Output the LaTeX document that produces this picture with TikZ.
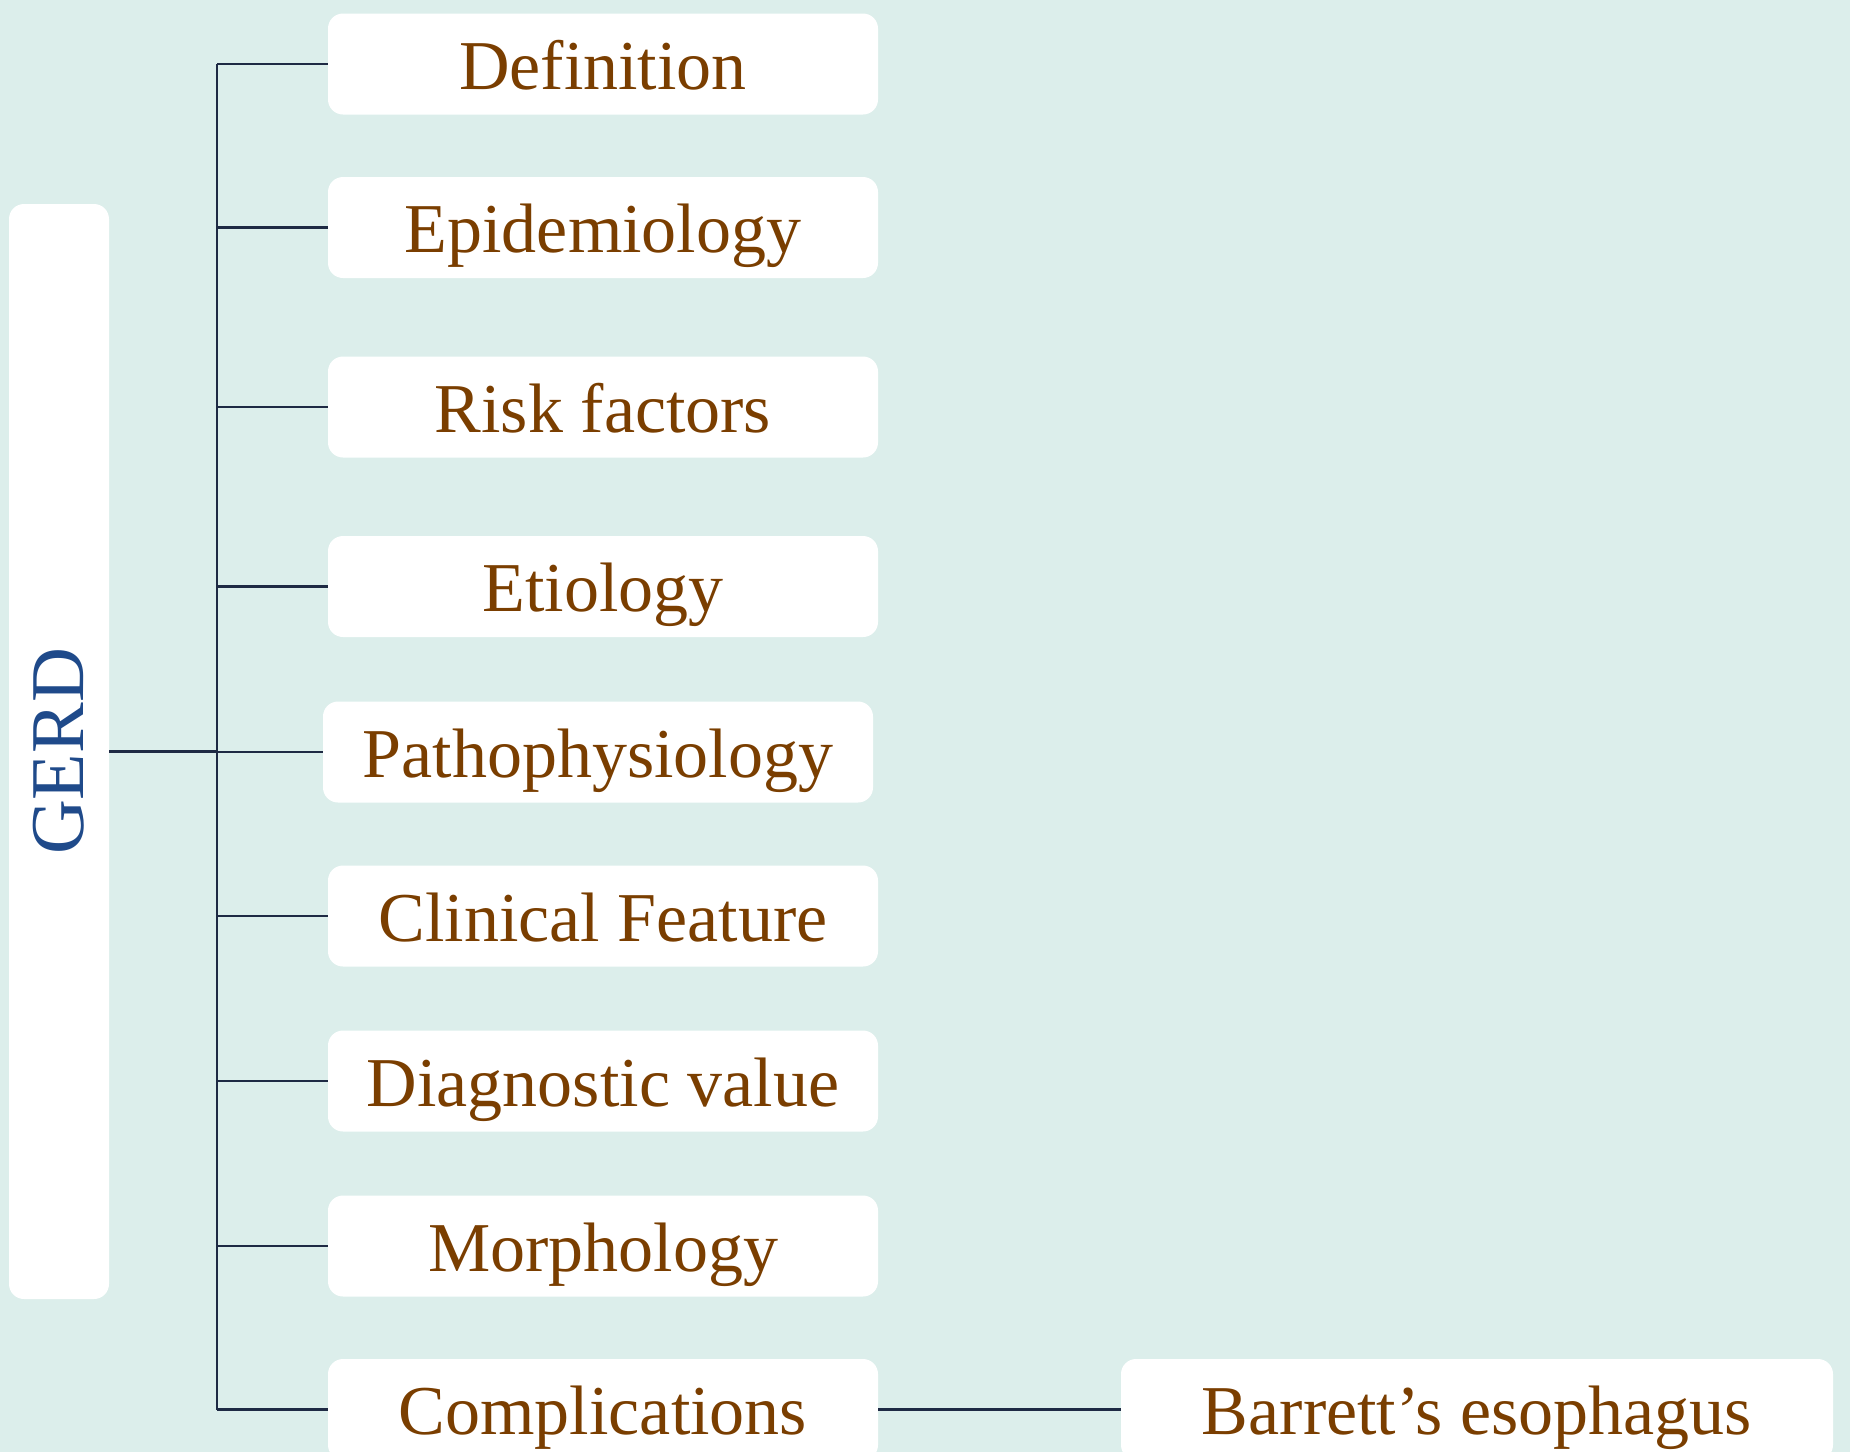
\documentclass[tikz,border=0pt]{standalone}
\usepackage{fontspec}
\setmainfont{Liberation Serif}
\usetikzlibrary{positioning,calc}

\definecolor{bgteal}{HTML}{DCEEEB}
\definecolor{topicbrown}{HTML}{7A3E00}
\definecolor{rootblue}{HTML}{1F4A8A}
\definecolor{linknavy}{HTML}{1E2A44}

\tikzset{
    topic/.style={fill=white, rounded corners=15pt, minimum width=550pt, minimum height=101pt,
        inner sep=0pt, text height=50pt, text depth=0pt, text=topicbrown, font=\fontsize{70}{80}\selectfont},
    root/.style={fill=white, rounded corners=15pt, minimum width=1095pt, minimum height=100pt,
        inner sep=0pt, text=rootblue, font=\fontsize{76}{86}\selectfont, rotate=90},
    link/.style={draw=linknavy, line width=2.5pt}
}

\begin{document}
\begin{tikzpicture}[x=1pt, y=-1pt]
                % Background
                \fill[bgteal] (0,0) rectangle (1850,1452);
                \useasboundingbox (0,0) rectangle (1850,1452);
                
                % Root
                \node[root] (gerd) at (59, 751.5) {GERD};
                
                % Topics
                \node[topic] (def) at (603, 64) {Definition};
                \node[topic] (epi) at (603, 227.5) {Epidemiology};
                \node[topic] (risk) at (603, 407) {Risk factors};
                \node[topic] (etio) at (603, 586.5) {Etiology};
                \node[topic] (patho) at (598, 752) {Pathophysiology};
                \node[topic] (clin) at (603, 916) {Clinical Feature};
                \node[topic] (diag) at (603, 1081) {Diagnostic value};
                \node[topic] (morph) at (603, 1246) {Morphology};
                \node[topic] (comp) at (603, 1409.5) {Complications};
                
                % Sub-topic
                \node[topic, minimum width=712pt] (barr) at (1477, 1409.5) {Barrett’s esophagus};
                
                % Spine
                \coordinate (spine) at (217, 0);
                \draw[link] (gerd.south) -- (spine |- gerd.south);
                \draw[link] (spine |- def.west) -- (spine |- comp.west);
                
                % Branches
                \foreach \n in {def, epi, risk, etio, patho, clin, diag, morph, comp}
                    \draw[link] (spine |- \n.west) -- (\n.west);
                \draw[link] (comp.east) -- (barr.west);
            \end{tikzpicture}
\end{document}
